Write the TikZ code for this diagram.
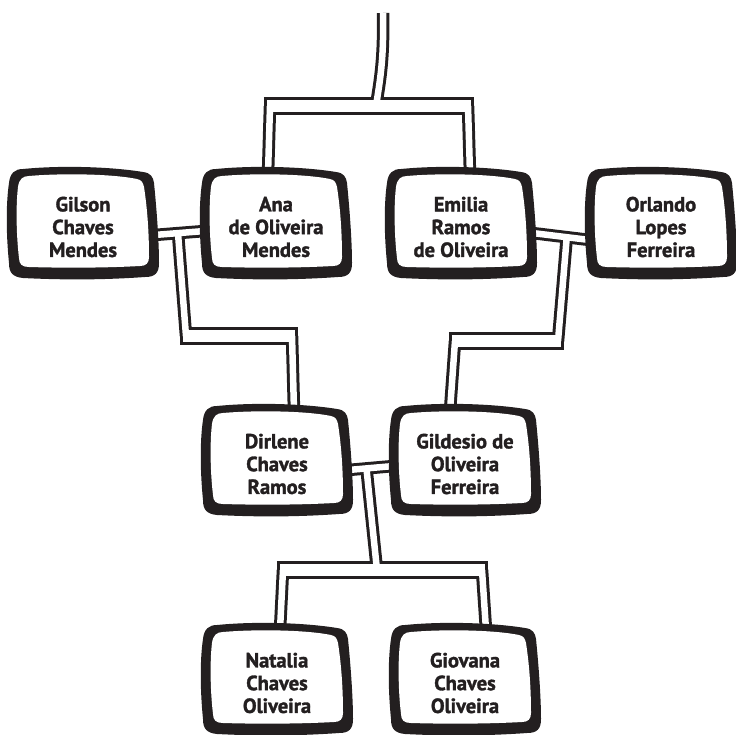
\documentclass[tikz,border=0pt]{standalone}
\usepackage{fontspec}
\setmainfont{PT Sans}[BoldFeatures={FakeBold=1.6}]
\usetikzlibrary{calc}
\definecolor{ink}{RGB}{35,31,32}
\pgfdeclarelayer{bg}
\pgfsetlayers{bg,main}
\tikzset{
  tvtext/.style={minimum width=150pt, minimum height=110pt, inner sep=0pt,
    align=center, font=\bfseries\fontsize{20.5}{22.8}\selectfont, text=ink},
  wireB/.style={draw=ink, line width=12.5pt},
  wireW/.style={draw=white, line width=6.5pt},
  barB/.style={draw=ink, line width=18pt},
  barW/.style={draw=white, line width=12pt},
}
\newcommand\tvbox[4]{%
  \begin{scope}[shift={(#2,#3)}]
    \fill[ink] (-60,-54) .. controls (-20,-58) and (30,-56) .. (60,-51)
      .. controls (68,-50) and (70,-46) .. (71,-40)
      .. controls (74,-10) and (76,20) .. (76,40)
      .. controls (76,50) and (72,54) .. (62,54)
      .. controls (20,57) and (-20,57) .. (-60,55)
      .. controls (-70,54) and (-74,50) .. (-74,40)
      .. controls (-77,10) and (-77,-20) .. (-74,-40)
      .. controls (-73,-50) and (-68,-54) .. (-60,-54) -- cycle;
    \fill[white] (-54,-47) .. controls (-20,-50) and (30,-49) .. (54,-44)
      .. controls (59,-43) and (60,-40) .. (61,-36)
      .. controls (65,-10) and (66,15) .. (66,34)
      .. controls (66,40) and (63,43) .. (57,43)
      .. controls (20,45) and (-20,45) .. (-54,44)
      .. controls (-61,44) and (-64,41) .. (-64,35)
      .. controls (-67,10) and (-67,-20) .. (-65,-36)
      .. controls (-64,-44) and (-60,-47) .. (-54,-47) -- cycle;
  \end{scope}
  \node[tvtext] (#1) at ($(#2,#3)+(0,4)$) {#4};
}
\begin{document}
\begin{tikzpicture}[x=1pt,y=-1pt]
\useasboundingbox (0,0) rectangle (736,734);

\tvbox{gilson}{83}{223}{Gilson\\Chaves\\Mendes}
\tvbox{ana}{276}{223}{Ana\\de Oliveira\\Mendes}
\tvbox{emilia}{461}{223}{Emilia\\Ramos\\de Oliveira}
\tvbox{orlando}{661}{223}{Orlando\\Lopes\\Ferreira}
\tvbox{dirlene}{277}{460}{Dirlene\\Chaves\\Ramos}
\tvbox{gildesio}{465}{460}{Gildesio de\\Oliveira\\Ferreira}
\tvbox{natalia}{277}{679}{Natalia\\Chaves\\Oliveira}
\tvbox{giovana}{465}{679}{Giovana\\Chaves\\Oliveira}

% junction and corner coordinates
\coordinate (top) at (383,13);
\coordinate (b1L) at (270,106);
\coordinate (b1R) at (468,106);
\coordinate (b1M) at (376,106);
\coordinate (m1L) at ([xshift=-4pt,yshift=-8pt]gilson.east);
\coordinate (m1R) at ([xshift=4pt,yshift=-4pt]ana.west);
\coordinate (j1) at ($(m1L)!0.47!(m1R)$);
\coordinate (b2L) at (186,336);
\coordinate (b2R) at (292,336);
\coordinate (m2L) at ([xshift=-4pt,yshift=-6pt]emilia.east);
\coordinate (m2R) at ([xshift=4pt,yshift=-13pt]orlando.west);
\coordinate (j2) at ($(m2L)!0.6!(m2R)$);
\coordinate (b3R) at (558,341);
\coordinate (b3L) at (455,341);
\coordinate (m3L) at ([xshift=-4pt,yshift=-6pt]dirlene.east);
\coordinate (m3R) at ([xshift=4pt,yshift=-2pt]gildesio.west);
\coordinate (j3) at ($(m3L)!0.4!(m3R)$);
\coordinate (b4M) at (377,570);
\coordinate (b4L) at (283,570);
\coordinate (b4R) at (482,570);

\newcommand\wirepaths[2]{%
  \draw[#1] (top) .. controls (384,60) and (380,80) .. (b1M);
  \draw[#1] (b1L) -- ([xshift=-8pt,yshift=-2pt]ana.north);
  \draw[#1] (b1R) -- ([xshift=9pt,yshift=-2pt]emilia.north);
  \draw[#1] (m1L) -- (m1R);
  \draw[#1] (j1) -- (b2L);
  \draw[#1] (b2R) -- ([xshift=17pt,yshift=-2pt]dirlene.north);
  \draw[#1] (m2L) -- (m2R);
  \draw[#1] (j2) -- (b3R);
  \draw[#1] (b3L) -- ([xshift=-15pt,yshift=-2pt]gildesio.north);
  \draw[#1] (m3L) -- (m3R);
  \draw[#1] (j3) -- (b4M);
  \draw[#1] (b4L) -- ([xshift=3pt,yshift=-2pt]natalia.north);
  \draw[#1] (b4R) -- ([xshift=21pt,yshift=-2pt]giovana.north);
  \draw[#2] ([xshift=-\barext]b1L) -- ([xshift=\barext]b1R);
  \draw[#2] ([xshift=-\barext]b2L) -- ([xshift=\barext]b2R);
  \draw[#2] ([xshift=-\barext]b3L) -- ([xshift=\barext]b3R);
  \draw[#2] ([xshift=-\barext]b4L) -- ([xshift=\barext]b4R);
}
\begin{pgfonlayer}{bg}
  \def\barext{6.25pt}
  \wirepaths{wireB}{barB}
  \def\barext{3.25pt}
  \wirepaths{wireW}{barW}
\end{pgfonlayer}
\end{tikzpicture}
\end{document}
